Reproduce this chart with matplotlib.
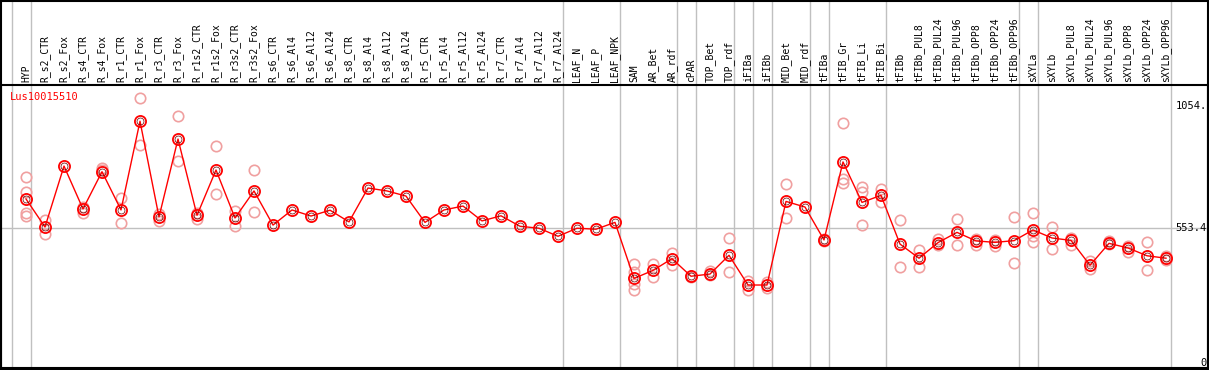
import numpy as np
import matplotlib
matplotlib.use("Agg")
import matplotlib.pyplot as plt
from matplotlib.patches import Rectangle

samples = ["HYP", "R_s2_CTR", "R_s2_Fox", "R_s4_CTR", "R_s4_Fox", "R_r1_CTR", "R_r1_Fox",
           "R_r3_CTR", "R_r3_Fox", "R_r1s2_CTR", "R_r1s2_Fox", "R_r3s2_CTR", "R_r3s2_Fox",
           "R_s6_CTR", "R_s6_Al4", "R_s6_Al12", "R_s6_Al24", "R_s8_CTR", "R_s8_Al4",
           "R_s8_Al12", "R_s8_Al24", "R_r5_CTR", "R_r5_Al4", "R_r5_Al12", "R_r5_Al24",
           "R_r7_CTR", "R_r7_Al4", "R_r7_Al12", "R_r7_Al24", "LEAF_N", "LEAF_P", "LEAF_NPK",
           "SAM", "AR_Bet", "AR_rdf", "cPAR", "TOP_Bet", "TOP_rdf", "iFIBa", "iFIBb",
           "MID_Bet", "MID_rdf", "tFIBa", "tFIB_Gr", "tFIB_Li", "tFIB_Bi", "tFIBb",
           "tFIBb_PUL8", "tFIBb_PUL24", "tFIBb_PUL96", "tFIBb_OPP8", "tFIBb_OPP24",
           "tFIBb_OPP96", "sXYLa", "sXYLb", "sXYLb_PUL8", "sXYLb_PUL24", "sXYLb_PUL96",
           "sXYLb_OPP8", "sXYLb_OPP24", "sXYLb_OPP96"]

# mean expression per sample
means = [673, 558, 808, 632, 785, 628, 992, 599, 919, 606, 792, 595, 706,
         566, 628, 603, 627, 579, 718, 706, 685, 577, 628, 644, 583,
         604, 561, 553, 520, 553, 549, 577,
         347, 380, 428, 356, 365, 442, 320, 320,
         663, 640, 505, 825, 659, 688, 488,
         430, 494, 536, 501, 495, 502,
         546, 513, 503, 401, 491, 472, 440, 430]

# replicate values (only the ones visible apart from the mean)
reps = [[764, 702, 614, 603], [587, 531], [], [641, 617], [799, 792], [678, 573],
        [1086, 895], [611, 583], [1012, 829], [617, 592], [889, 692], [625, 561],
        [792, 618], [], [], [], [], [], [], [], [], [], [], [], [],
        [], [], [], [], [], [], [],
        [406, 372, 323, 298], [406, 354], [451, 403], [359, 352], [379, 361],
        [512, 372], [338, 298], [333, 306],
        [733, 594], [], [510, 500], [985, 754, 740], [721, 703, 565], [714, 662],
        [587, 393],
        [462, 393], [509, 484], [590, 483], [507, 484], [505, 481], [599, 410],
        [614, 522, 498], [557, 468], [513, 485], [420, 384], [499, 488],
        [481, 455], [495, 380], [439, 424]]

# group separators (after these sample indices)
separators = [-1, 0, 28, 31, 34, 35, 37, 38, 39, 41, 42, 45, 52, 53, 60]

ytick_vals = [1054.0, 553.4, 0]
ytick_labels = ["1054.", "553.4", "0"]
gene = "Lus10015510"

plt.rcParams["font.family"] = "DejaVu Sans Mono"

W, H = 1209, 370
fig = plt.figure(figsize=(W / 100, H / 100), dpi=100)
ax = fig.add_axes([1 / W, 2 / H, 1207 / W, 283 / H])

x = np.arange(len(samples))
ax.set_xlim(-25 / 19, 1182 / 19)
ax.set_ylim(-20.5, 1140.7)

ax.axhline(553.4, color="#c0c0c0", lw=1, zorder=1)
for s in separators:
    ax.axvline(s + 5 / 19, ymin=0, ymax=1 + 85 / 283, color="#c0c0c0", lw=1,
               clip_on=False, zorder=1)

rx = [i for i, r in enumerate(reps) for _ in r]
ry = [v for r in reps for v in r]
ax.plot(rx, ry, "o", ms=7.5, mfc="none", mec="#f0a0a0", mew=1.2, zorder=2)

ax.plot(x, means, "-", color="red", lw=1, zorder=3)
ax.plot(x, means, "o", ms=8, mfc="none", mec="red", mew=1.3, zorder=4)
ax.plot(x, means, "o", ms=5, mfc="none", mec="#600000", mew=0.5, zorder=5)

for i, name in enumerate(samples):
    ax.text(i, 1 + 3 / 283, name, rotation=90, ha="center", va="bottom",
            fontsize=7, transform=ax.get_xaxis_transform())

for v, lab in zip(ytick_vals, ytick_labels):
    ax.text(1206 / 1207, v, lab, ha="right", va="center", fontsize=7.5,
            transform=ax.get_yaxis_transform())

ax.text(9 / 1207, 1 - 12 / 283, gene, color="red", ha="left", va="center",
        fontsize=7.5, transform=ax.transAxes)

ax.set_xticks([])
ax.set_yticks([])
for sp in ax.spines.values():
    sp.set_linewidth(1.5)

fig.patches.append(Rectangle((0.5 / W, 0.5 / H), 1 - 1.5 / W, 1 - 1.5 / H,
                             transform=fig.transFigure, fill=False,
                             ec="black", lw=1.5))

fig.savefig("out.png", dpi=100)
